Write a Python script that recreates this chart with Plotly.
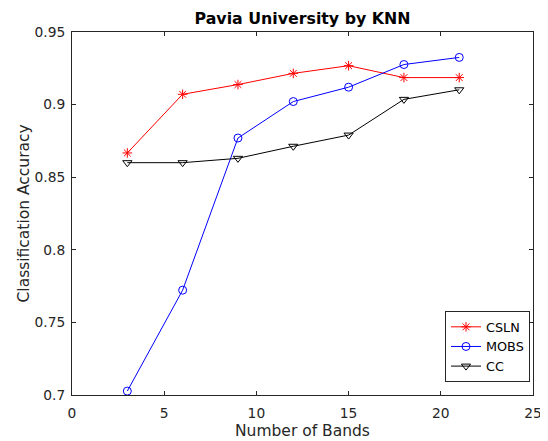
import plotly.graph_objects as go

bands = [3, 6, 9, 12, 15, 18, 21]
csln = [0.8667, 0.9071, 0.9138, 0.9215, 0.9268, 0.9186, 0.9186]
mobs = [0.7027, 0.7722, 0.8770, 0.9021, 0.9120, 0.9276, 0.9325]
cc = [0.8600, 0.8600, 0.8630, 0.8713, 0.8790, 0.9036, 0.9102]

x_ticks = [0, 5, 10, 15, 20, 25]
y_ticks = [0.7, 0.75, 0.8, 0.85, 0.9, 0.95]
y_ticktext = ["0.7", "0.75", "0.8", "0.85", "0.9", "0.95"]

FONT = "DejaVu Sans"
TXT = "#262626"

# page body has an 8px margin -> figure is 540x433 at offset (8, 8)
W, H = 540, 433
L, R, T, B = 64, 15, 24, 46
PW, PH = W - L - R, H - T - B

fig = go.Figure()
fig.add_trace(go.Scatter(x=bands, y=csln, name="CSLN", mode="lines+markers",
                         line=dict(color="#ff0000", width=1),
                         marker=dict(symbol="asterisk-open", size=8, color="#ff0000",
                                     line=dict(color="#ff0000", width=1))))
fig.add_trace(go.Scatter(x=bands, y=mobs, name="MOBS", mode="lines+markers",
                         line=dict(color="#0000ff", width=1),
                         marker=dict(symbol="circle-open", size=8, color="#0000ff",
                                     line=dict(color="#0000ff", width=1))))
fig.add_trace(go.Scatter(x=bands, y=cc, name="CC", mode="lines+markers",
                         line=dict(color="#000000", width=1),
                         marker=dict(symbol="triangle-down-open", size=8, color="#000000",
                                     line=dict(color="#000000", width=1))))

axis_common = dict(showgrid=False, zeroline=False, showline=True, mirror="ticks",
                   linecolor=TXT, linewidth=1, ticks="inside", ticklen=4,
                   tickcolor=TXT, automargin=False,
                   tickfont=dict(family=FONT, size=13.8, color=TXT))

fig.update_layout(
    width=W, height=H,
    margin=dict(l=L, r=R, t=T, b=B),
    paper_bgcolor="white", plot_bgcolor="white",
    title=dict(text="<b>Pavia University by KNN</b>", x=0.5, xanchor="center",
               xref="paper", yref="container", y=1 - 10.5 / H, yanchor="middle",
               automargin=False,
               font=dict(family=FONT, size=15.8, color="black")),
    xaxis=dict(range=[0, 25], tickvals=x_ticks, ticklabelstandoff=5, **axis_common),
    yaxis=dict(range=[0.7, 0.95], tickvals=y_ticks, ticktext=y_ticktext,
               ticklabelstandoff=3, **axis_common),
    legend=dict(x=(522 - L) / PW, xanchor="right", y=(H - B - 374) / PH, yanchor="bottom",
                bgcolor="white", bordercolor=TXT, borderwidth=1,
                font=dict(family=FONT, size=12.8, color="black"),
                itemwidth=30, tracegroupgap=0),
    showlegend=True,
    annotations=[
        dict(text="Number of Bands", xref="paper", yref="paper", x=0.5,
             y=-(423 - (H - B)) / PH, xanchor="center", yanchor="middle",
             showarrow=False, font=dict(family=FONT, size=15.5, color=TXT)),
        dict(text="Classification Accuracy", xref="paper", yref="paper",
             x=-(L - 15) / PW, y=0.5, xanchor="center", yanchor="middle",
             textangle=-90, showarrow=False, font=dict(family=FONT, size=15.5, color=TXT)),
    ],
)

fig.write_html("out.html")
